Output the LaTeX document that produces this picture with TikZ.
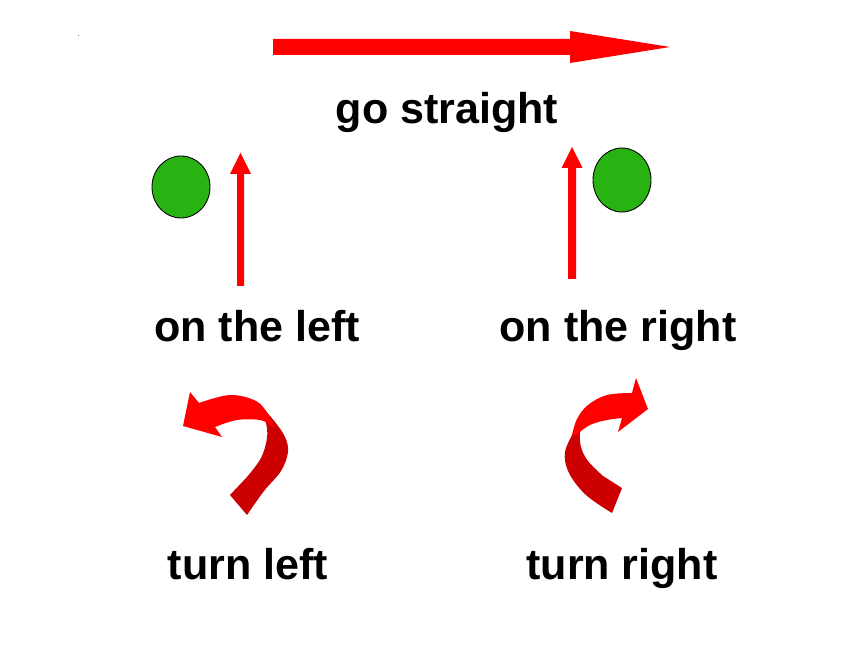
\documentclass[tikz,border=0pt]{standalone}
\usepackage{fontspec}
\setmainfont{Liberation Sans}
\definecolor{brightred}{RGB}{255,0,0}
\definecolor{darkred}{RGB}{204,0,0}
\definecolor{dotgreen}{RGB}{41,179,18}
\begin{document}
\begin{tikzpicture}[x=0.02cm,y=-0.02cm,
    lbl/.style={anchor=base,inner sep=0pt,font=\fontsize{24.5}{28}\selectfont\bfseries},
    spot/.style={fill=dotgreen,draw=black,line width=0.5pt}]

    \useasboundingbox (0,0) rectangle (860,645);
    \fill[gray] (77.5,35.5) rectangle (78.5,36.5);

    %go straight
    \coordinate (A) at (273,39);
    \coordinate (B) at (570,39);
    \coordinate (C) at (570,31);
    \coordinate (D) at (670,47);
    \coordinate (E) at (570,63);
    \coordinate (F) at (570,55);
    \coordinate (G) at (273,55);
    \fill[brightred] (A) -- (B) -- (C) -- (D) -- (E) -- (F) -- (G) -- cycle;
    \node[lbl] (straight) at (447,124) {go straight};

    %on the left
    \fill[spot] (181,187) ellipse (29 and 31);
    \fill[brightred] (237,286) -- (237,174) -- (230,174) -- (240.5,153) -- (251,174) -- (244,174) -- (244,286) -- cycle;
    \node[lbl] (onleft) at (257,342) {on the left};

    %on the right
    \fill[spot] (622,180) ellipse (29 and 32);
    \fill[brightred] (568,279) -- (568,168) -- (561.5,168) -- (572,147) -- (582.5,168) -- (576,168) -- (576,279) -- cycle;
    \node[lbl] (onright) at (618,342) {on the right};

    %turn left
    \fill[darkred] plot[smooth,tension=0.6] coordinates {(262,407) (275,422) (285,437) (288,452) (281,471) (264,491) (247,515)}
        -- (230,495)
        -- plot[smooth,tension=0.6] coordinates {(247,477) (261,458) (267,438) (266,423) (261,410)} -- cycle;
    \fill[brightred] (183,426) -- (190,392) -- (199,403)
        -- plot[smooth,tension=0.6] coordinates {(199,403) (230,395) (256,401) (268,414) (274,427)}
        -- plot[smooth,tension=0.6] coordinates {(270,425) (260,420) (237,420) (215,427)}
        -- (222,437) -- cycle;
    \node[lbl] (turnleft) at (248,580) {turn left};

    %turn right
    \fill[darkred] plot[smooth,tension=0.6] coordinates {(575,430) (565,452) (569,473) (586,495) (612,513)}
        -- (622,488)
        -- plot[smooth,tension=0.6] coordinates {(603,476) (588,461) (581,447) (580,433) (583,425)} -- cycle;
    \fill[brightred] (648,409) -- (618,432) -- (622,418)
        -- plot[smooth,tension=0.6] coordinates {(622,418) (607,420) (590,425) (576,435)}
        -- plot[smooth,tension=0.6] coordinates {(572,435) (577,419) (588,405) (607,395) (632,393)}
        -- (636,378) -- cycle;
    \node[lbl] (turnright) at (622,580) {turn right};

\end{tikzpicture}
\end{document}
